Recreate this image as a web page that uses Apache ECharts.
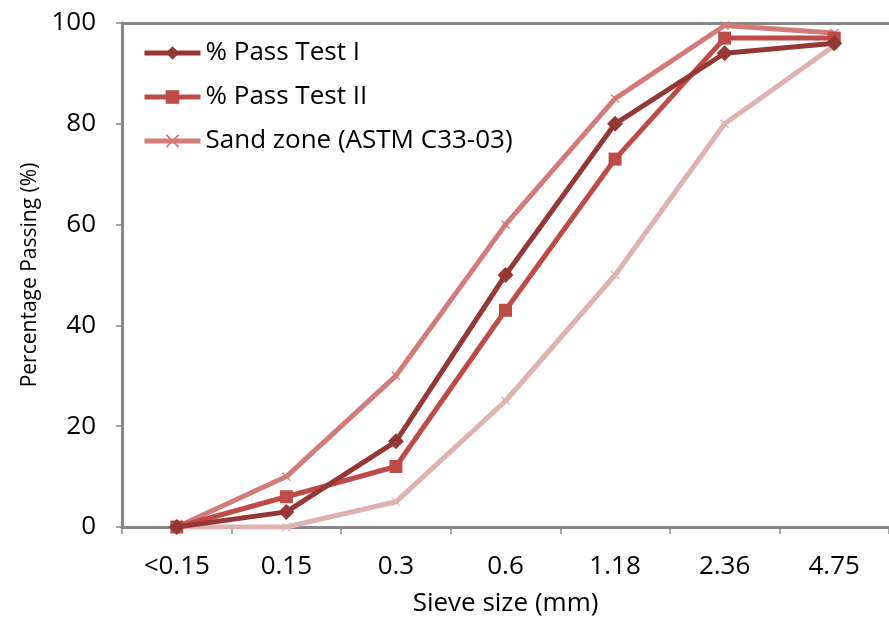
<!DOCTYPE html>
<html><head><meta charset="utf-8">
<script src="https://cdn.jsdelivr.net/npm/echarts@6/dist/echarts.min.js"></script>
<style>html,body{margin:0;padding:0;background:#fff}#c{width:889px;height:619px}</style>
</head><body><div id="c"></div>
<script>
const categories = ['<0.15','0.15','0.3','0.6','1.18','2.36','4.75'];
const passTest1 = [0, 3, 17, 50, 80, 94, 96];
const passTest2 = [0, 6, 12, 43, 73, 97, 97];
const sandUpper = [0, 10, 30, 60, 85, 99.5, 98];
const sandLower = [0, 0, 5, 25, 50, 80, 95.5];
const yTicks = [0, 20, 40, 60, 80, 100];

const FONT = 'Open Sans';
const crossPath = 'path://M1,0L5,4L9,0L10,1L6,5L10,9L9,10L5,6L1,10L0,9L4,5L0,1Z';

const chart = echarts.init(document.getElementById('c'));
chart.setOption({
  animation: false,
  textStyle: {fontFamily: FONT},
  grid: {left: 122, right: 0, top: 23, bottom: 92, containLabel: false, outerBoundsMode: 'none'},
  legend: {
    left: 137, top: 33, orient: 'vertical', itemGap: 14, itemWidth: 56, itemHeight: 17,
    lineStyle: {width: 5},
    textStyle: {fontFamily: FONT, fontSize: 26, lineHeight: 30, color: '#000'},
    data: ['% Pass Test I', '% Pass Test II', 'Sand zone (ASTM C33-03)']
  },
  xAxis: [{
    type: 'category', data: categories, boundaryGap: true,
    name: 'Sieve size (mm)', nameLocation: 'middle', nameGap: 64,
    nameTextStyle: {fontSize: 26, color: '#000'},
    axisLine: {lineStyle: {color: '#878787', width: 3}},
    axisTick: {show: true, length: 7, lineStyle: {color: '#878787', width: 1.5}},
    axisLabel: {fontSize: 26, color: '#000', margin: 27},
    splitLine: {show: false}
  }, {
    type: 'category', data: categories, position: 'top',
    axisLine: {show: true, lineStyle: {color: '#878787', width: 3}},
    axisTick: {show: false}, axisLabel: {show: false}
  }],
  yAxis: {
    type: 'value', min: 0, max: 100, interval: 20,
    name: 'Percentage Passing (%)', nameLocation: 'middle', nameGap: 81, nameRotate: 90,
    nameTextStyle: {fontSize: 21, color: '#000'},
    axisLine: {show: true, lineStyle: {color: '#878787', width: 3}},
    axisTick: {show: true, length: 6, lineStyle: {color: '#878787', width: 1.5}},
    axisLabel: {fontSize: 26, color: '#000', margin: 26,
      formatter: v => yTicks.includes(v) ? String(v) : ''},
    splitLine: {show: false}
  },
  series: [
    {name: 'Sand zone (ASTM C33-03) lower', type: 'line', data: sandLower,
     symbol: crossPath, symbolSize: 9, z: 1,
     lineStyle: {color: '#DEB2B1', width: 5}, itemStyle: {color: '#DEB2B1'}},
    {name: 'Sand zone (ASTM C33-03)', type: 'line', data: sandUpper,
     symbol: crossPath, symbolSize: 9, z: 2,
     lineStyle: {color: '#D27B79', width: 5}, itemStyle: {color: '#D27B79'}},
    {name: '% Pass Test II', type: 'line', data: passTest2,
     symbol: 'rect', symbolSize: 13, z: 3,
     lineStyle: {color: '#BE4B48', width: 5}, itemStyle: {color: '#BE4B48'}},
    {name: '% Pass Test I', type: 'line', data: passTest1,
     symbol: 'diamond', symbolSize: 16, z: 4,
     lineStyle: {color: '#953735', width: 5}, itemStyle: {color: '#953735'}}
  ]
});
</script></body></html>
